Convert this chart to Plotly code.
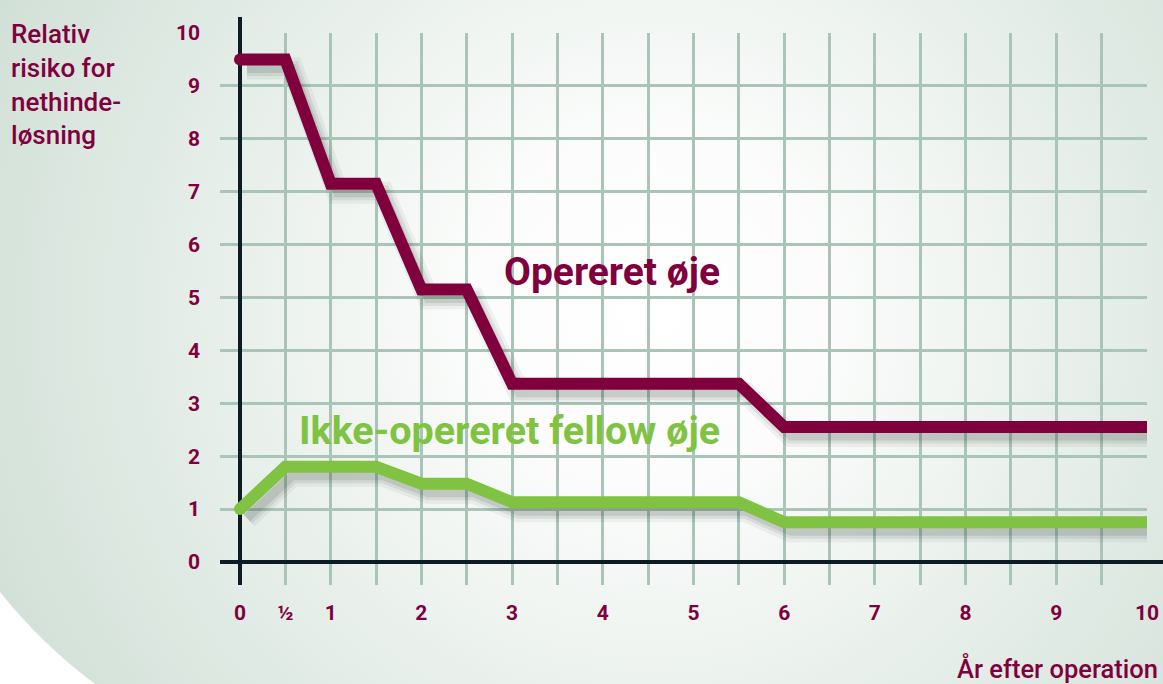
import base64
import numpy as np
import plotly.graph_objects as go

# ---------------- data ----------------
years = [0, 0.5, 1.0, 1.5, 2.0, 2.5, 3.0, 5.5, 6.0, 10]
opereret = [9.5, 9.5, 7.15, 7.15, 5.15, 5.15, 3.37, 3.37, 2.55, 2.55]
fellow = [1.0, 1.8, 1.8, 1.8, 1.48, 1.48, 1.13, 1.13, 0.75, 0.75]

x_tickvals = [i * 0.5 for i in range(0, 21)]
x_ticktext = ["0", "½", "1", "", "2", "", "3", "", "4", "", "5", "", "6", "", "7", "", "8", "", "9", "", "10"]
y_tickvals = list(range(0, 11))
y_ticktext = [str(v) for v in y_tickvals]

label_operated = "Opereret øje"
label_fellow = "Ikke-opereret fellow øje"
y_title = "Relativ<br>risiko for<br>nethinde-<br>løsning"
x_title = "År efter operation"

# ---------------- style ----------------
W, H = 1163, 684
PURPLE = "#80003d"
GREEN = "#80c242"
GRID = "#a9c5b7"
AXIS = "#0c1b24"
FONT = "Roboto"

# pixel geometry of the plotting grid
px_left, px_right = 220, 1147
px_top, px_bottom = 33, 585
x0_px, y0_px = 240, 562
ppx = (px_right - x0_px) / 10.0
ppy = (y0_px - px_top) / 10.0
x_range = [-(x0_px - px_left) / ppx, 10]
y_range = [-(px_bottom - y0_px) / ppy, 10]

# background svg (radial gradient, rounded lower-left)
svg = f"""<svg xmlns='http://www.w3.org/2000/svg' width='{W}' height='{H}' viewBox='0 0 {W} {H}'>
<defs><radialGradient id='g' cx='650' cy='310' r='720' gradientUnits='userSpaceOnUse'>
<stop offset='0' stop-color='#ffffff'/><stop offset='0.25' stop-color='#fbfcfb'/>
<stop offset='1' stop-color='#d1e0d7'/></radialGradient></defs>
<path d='M0,0 H{W} V{H} H95 A520,520 0 0 1 0,592 Z' fill='url(#g)'/>
</svg>"""
svg_uri = "data:image/svg+xml;base64," + base64.b64encode(svg.encode()).decode()

fig = go.Figure()

# soft drop shadows derived from the series
dx, dy = 7 / ppx, -9 / ppy
for series in (opereret, fellow):
    xs = np.array(years) + dx
    ys = np.array(series) + dy
    for w, a in ((22, 0.06), (15, 0.09), (9, 0.12)):
        fig.add_trace(go.Scatter(x=xs, y=ys, mode="lines",
                                 line=dict(color=f"rgba(40,55,45,{a})", width=w),
                                 hoverinfo="skip", showlegend=False))

for series, color, name in ((opereret, PURPLE, label_operated), (fellow, GREEN, label_fellow)):
    fig.add_trace(go.Scatter(x=years, y=series, mode="lines", name=name,
                             line=dict(color=color, width=12), showlegend=False))
    # round line caps at both ends
    fig.add_trace(go.Scatter(x=[years[0], years[-1]], y=[series[0], series[-1]], mode="markers",
                             marker=dict(color=color, size=12, line=dict(width=0)),
                             hoverinfo="skip", showlegend=False))

fig.update_layout(
    width=W, height=H,
    margin=dict(l=0, r=0, t=0, b=0, pad=0, autoexpand=False),
    paper_bgcolor="white",
    plot_bgcolor="rgba(0,0,0,0)",
    showlegend=False,
    font=dict(family=FONT, color=PURPLE),
    xaxis=dict(domain=[px_left / W, px_right / W], range=x_range, automargin=False,
               tickmode="array", tickvals=x_tickvals, ticktext=x_ticktext,
               showgrid=True, gridcolor=GRID, gridwidth=2.5,
               zeroline=True, zerolinecolor=AXIS, zerolinewidth=4,
               showline=False, ticks="", ticklabelstandoff=13,
               tickfont=dict(family=FONT, size=21, color=PURPLE, weight="bold"),
               fixedrange=True),
    yaxis=dict(domain=[1 - px_bottom / H, 1 - px_top / H], range=y_range, automargin=False,
               tickmode="array", tickvals=y_tickvals, ticktext=y_ticktext,
               showgrid=True, gridcolor=GRID, gridwidth=2.5,
               zeroline=True, zerolinecolor=AXIS, zerolinewidth=4,
               showline=False, ticks="", ticklabelstandoff=19,
               tickfont=dict(family=FONT, size=21, color=PURPLE, weight="bold"),
               fixedrange=True),
    images=[dict(source=svg_uri, xref="paper", yref="paper", x=0, y=1,
                 sizex=1, sizey=1, xanchor="left", yanchor="top",
                 sizing="stretch", layer="below")],
    shapes=[
        dict(type="line", xref="paper", yref="paper",
             x0=x0_px / W, x1=x0_px / W, y0=1 - 582 / H, y1=1 - 17 / H,
             line=dict(color=AXIS, width=4), layer="below"),
        dict(type="line", xref="paper", yref="paper",
             x0=px_left / W, x1=1.0, y0=1 - y0_px / H, y1=1 - y0_px / H,
             line=dict(color=AXIS, width=4), layer="below"),
    ],
    annotations=[
        dict(text=label_operated, xref="paper", yref="paper",
             x=612 / W, y=1 - 272 / H, showarrow=False, xanchor="center", yanchor="middle",
             font=dict(family=FONT, size=39, color=PURPLE, weight="bold")),
        dict(text=label_fellow, xref="paper", yref="paper",
             x=509 / W, y=1 - 430 / H, showarrow=False, xanchor="center", yanchor="middle",
             font=dict(family=FONT, size=39.5, color=GREEN, weight="bold")),
        dict(text=y_title, xref="paper", yref="paper", x=9 / W, y=1 - 17 / H,
             showarrow=False, xanchor="left", yanchor="top", align="left",
             font=dict(family=FONT, size=26, color=PURPLE, weight=500)),
        dict(text=x_title, xref="paper", yref="paper", x=1160 / W, y=1 - 686 / H,
             showarrow=False, xanchor="right", yanchor="bottom", align="right",
             font=dict(family=FONT, size=25.5, color=PURPLE, weight=500)),
    ],
)

post = ("document.documentElement.style.margin='0';document.documentElement.style.padding='0';"
        "document.body.style.margin='0';document.body.style.padding='0';")
fig.write_html("out.html", post_script=post, config={"displayModeBar": False})
